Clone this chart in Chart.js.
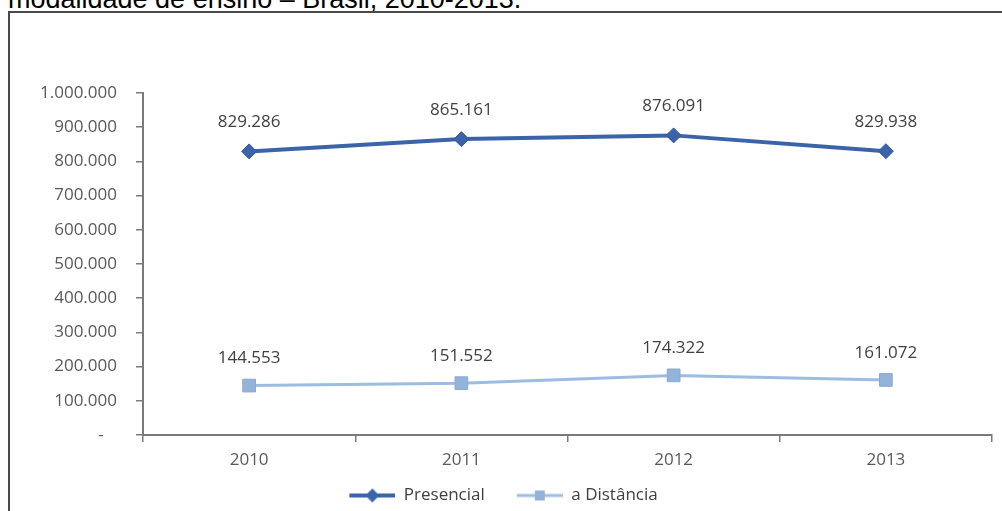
<!DOCTYPE html>
<html>
<head>
<meta charset="utf-8">
<script src="https://cdn.jsdelivr.net/npm/chart.js@4.4.1/dist/chart.umd.min.js"></script>
<style>
  html, body { margin: 0; padding: 0; background: #fff; overflow: hidden; }
  #wrap { position: relative; width: 1002px; height: 511px; overflow: hidden; }
  #title {
    position: absolute; left: 8px; top: -14px;
    font: 27px "Liberation Sans", Arial, sans-serif; line-height: 27px;
    color: #000; white-space: nowrap;
  }
  #frame {
    position: absolute; left: 8px; top: 11px; width: 1020px; height: 540px;
    border: 2px solid #4a4a4a; box-sizing: border-box;
  }
  #chart { position: absolute; left: 0; top: 0; }
</style>
</head>
<body>
<div id="wrap">
  <div id="title">modalidade de ensino – Brasil, 2010-2013.</div>
  <div id="frame"></div>
  <canvas id="chart" width="1002" height="520"></canvas>
</div>
<script>
// Matrículas por modalidade de ensino, 2010-2013
const anos = ['2010', '2011', '2012', '2013'];
const presencial = [829286, 865161, 876091, 829938];
const distancia = [144553, 151552, 174322, 161072];
const nomesSeries = ['Presencial', 'a Distância'];

const corPresencial = '#3b63a9';
const corDistancia = '#9dbde0';
const corDistanciaPonto = '#93b3d9';
const FONTE = '"Open Sans", "DejaVu Sans", sans-serif';

// Brazilian thousands separator
function milhar(v) {
  return String(Math.round(v)).replace(/\B(?=(\d{3})+(?!\d))/g, '.');
}

// Legend icons: line segment with a marker, like the series themselves
function iconeLegenda(cor, largura, desenhaMarcador) {
  const c = document.createElement('canvas');
  c.width = 60; c.height = 18;
  const g = c.getContext('2d');
  g.strokeStyle = cor; g.lineWidth = largura;
  g.beginPath(); g.moveTo(14, 9); g.lineTo(60, 9); g.stroke();
  desenhaMarcador(g, 37, 9);
  return c;
}
const iconePresencial = iconeLegenda(corPresencial, 4, (g, x, y) => {
  g.fillStyle = corPresencial;
  g.beginPath(); g.moveTo(x, y - 7); g.lineTo(x + 7, y); g.lineTo(x, y + 7); g.lineTo(x - 7, y); g.closePath(); g.fill();
});
const iconeDistancia = iconeLegenda(corDistancia, 3, (g, x, y) => {
  g.fillStyle = corDistanciaPonto;
  g.fillRect(x - 5, y - 5, 10, 10);
});
const iconesLegenda = [iconePresencial, iconeDistancia];

// Value labels above each point
const rotulosValores = {
  id: 'rotulosValores',
  afterDatasetsDraw(chart) {
    const ctx = chart.ctx;
    ctx.save();
    ctx.font = '17px ' + FONTE;
    ctx.fillStyle = '#404040';
    ctx.textAlign = 'center';
    ctx.textBaseline = 'middle';
    chart.data.datasets.forEach((ds, i) => {
      const meta = chart.getDatasetMeta(i);
      meta.data.forEach((pt, j) => {
        ctx.fillText(milhar(ds.data[j]), pt.x, pt.y - ds.deslocRotulo);
      });
    });
    ctx.restore();
  }
};

new Chart(document.getElementById('chart'), {
  type: 'line',
  data: {
    labels: anos,
    datasets: [
      {
        label: nomesSeries[0],
        data: presencial,
        borderColor: corPresencial,
        backgroundColor: corPresencial,
        borderWidth: 4,
        pointStyle: 'rectRot',
        pointRadius: 7.5,
        pointBorderWidth: 1,
        pointBackgroundColor: corPresencial,
        pointBorderColor: '#35599a',
        tension: 0,
        deslocRotulo: 29
      },
      {
        label: nomesSeries[1],
        data: distancia,
        borderColor: corDistancia,
        backgroundColor: corDistanciaPonto,
        borderWidth: 3,
        pointStyle: 'rect',
        pointRadius: 9,
        pointBorderWidth: 1,
        pointBackgroundColor: corDistanciaPonto,
        pointBorderColor: '#8aaad0',
        tension: 0,
        deslocRotulo: 27
      }
    ]
  },
  options: {
    responsive: false,
    animation: false,
    events: [],
    layout: { padding: { left: 0, right: 9, top: 93, bottom: 6 } },
    scales: {
      x: {
        offset: true,
        afterFit(scale) { scale.height = 34; },
        grid: {
          offset: true, drawOnChartArea: false, drawTicks: true,
          tickLength: 7, color: '#7a7a7a', lineWidth: 1.5
        },
        border: { display: true, color: '#7a7a7a', width: 2 },
        ticks: { padding: 8, color: '#595959', font: { family: FONTE, size: 17 } }
      },
      y: {
        min: 0, max: 1000000,
        afterFit(scale) { scale.width = 143; },
        grid: {
          drawOnChartArea: false, drawTicks: true,
          tickLength: 7, color: '#7a7a7a', lineWidth: 1.5
        },
        border: { display: true, color: '#7a7a7a', width: 2 },
        ticks: {
          stepSize: 100000, padding: 19, color: '#595959',
          font: { family: FONTE, size: 17 },
          callback: (v) => v === 0 ? '-   ' : milhar(v)
        }
      }
    },
    plugins: {
      tooltip: { enabled: false },
      legend: {
        position: 'bottom',
        labels: {
          usePointStyle: true,
          pointStyleWidth: 60,
          padding: 18,
          color: '#404040',
          font: { family: FONTE, size: 17 },
          generateLabels(chart) {
            const itens = Chart.defaults.plugins.legend.labels.generateLabels(chart);
            itens.forEach((it, i) => { it.pointStyle = iconesLegenda[i]; });
            return itens;
          }
        }
      }
    }
  },
  plugins: [rotulosValores]
});
</script>
</body>
</html>
